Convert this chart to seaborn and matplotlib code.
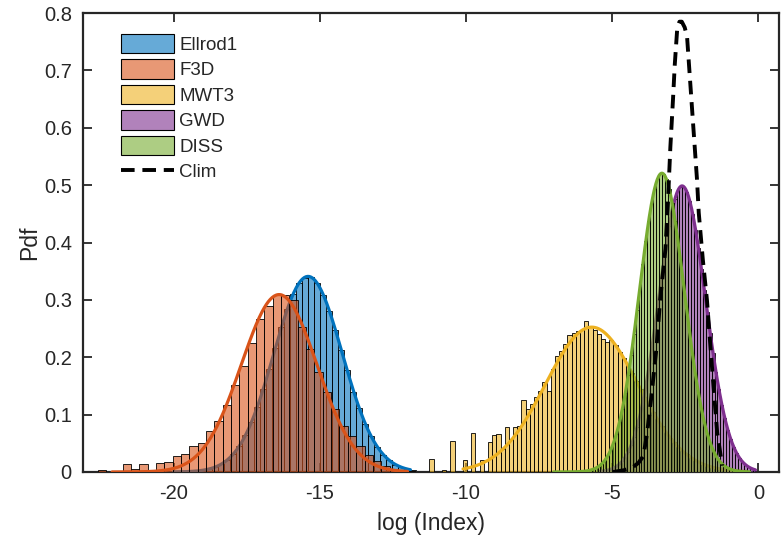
import numpy as np
import pandas as pd
import matplotlib
matplotlib.use('Agg')
import matplotlib.pyplot as plt
import seaborn as sns
from matplotlib.colors import to_rgba
from matplotlib.patches import Patch
from matplotlib.lines import Line2D

## DATA
# MATLAB default colours
c_blue = (0.0, 0.447, 0.741)
c_orange = (0.85, 0.325, 0.098)
c_yellow = (0.929, 0.694, 0.125)
c_purple = (0.494, 0.184, 0.556)
c_green = (0.466, 0.674, 0.188)

# Ellrod1 histogram (pdf normalised)
ellrod_start, ellrod_width = -19.9, 0.205
ellrod_pdf = [0.000, 0.001, 0.001, 0.002, 0.003, 0.005, 0.009, 0.014, 0.021, 0.031,
              0.046, 0.064, 0.087, 0.114, 0.145, 0.180, 0.216, 0.252, 0.284, 0.311,
              0.330, 0.338, 0.340, 0.329, 0.309, 0.281, 0.248, 0.213, 0.177, 0.140,
              0.111, 0.084, 0.062, 0.044, 0.030, 0.020, 0.013, 0.008, 0.005, 0.003]

# F3D histogram
f3d_start, f3d_width = -22.59, 0.285
f3d_pdf = [0.003, 0.0, 0.0, 0.014, 0.005, 0.014, 0.003, 0.015, 0.017, 0.028,
           0.031, 0.045, 0.050, 0.071, 0.089, 0.117, 0.152, 0.184, 0.224, 0.266,
           0.289, 0.308, 0.308, 0.300, 0.252, 0.214, 0.174, 0.139, 0.110, 0.081,
           0.063, 0.045, 0.030, 0.019, 0.011, 0.006, 0.003, 0.002]

# MWT3 histogram
mwt_start, mwt_width = -11.25, 0.143
mwt_pdf = [0.023, 0.0, 0.0, 0.003, 0.0, 0.054, 0.0, 0.0, 0.021, 0.0,
           0.068, 0.0, 0.021, 0.0, 0.052, 0.065, 0.066, 0.040, 0.079, 0.057,
           0.078, 0.081, 0.126, 0.110, 0.118, 0.130, 0.141, 0.156, 0.141, 0.180,
           0.202, 0.211, 0.223, 0.238, 0.243, 0.246, 0.247, 0.263, 0.252, 0.247,
           0.240, 0.231, 0.226, 0.230, 0.221, 0.210, 0.198, 0.185, 0.172, 0.158,
           0.144, 0.130, 0.117, 0.104, 0.092, 0.080, 0.070, 0.060, 0.052, 0.044,
           0.037, 0.031, 0.025, 0.021, 0.017, 0.014, 0.011, 0.009, 0.007, 0.005,
           0.004, 0.003, 0.002, 0.002, 0.001, 0.001]

# GWD histogram
gwd_start, gwd_width = -5.4, 0.1
gwd_pdf = [0.001, 0.002, 0.003, 0.005, 0.007, 0.010, 0.014, 0.019, 0.026, 0.035,
           0.047, 0.061, 0.078, 0.098, 0.122, 0.150, 0.181, 0.214, 0.250, 0.287,
           0.325, 0.362, 0.397, 0.428, 0.455, 0.476, 0.491, 0.497, 0.497, 0.488,
           0.472, 0.450, 0.422, 0.390, 0.354, 0.317, 0.279, 0.242, 0.207, 0.174,
           0.144, 0.117, 0.094, 0.074, 0.058, 0.044, 0.033, 0.025, 0.018, 0.013,
           0.009, 0.006, 0.004]

# DISS histogram
diss_start, diss_width = -6.2, 0.1
diss_pdf = [0.001, 0.001, 0.001, 0.002, 0.003, 0.005, 0.007, 0.010, 0.015, 0.020,
            0.028, 0.038, 0.051, 0.067, 0.087, 0.110, 0.138, 0.169, 0.204, 0.241,
            0.282, 0.323, 0.363, 0.403, 0.438, 0.469, 0.494, 0.511, 0.520, 0.520,
            0.511, 0.494, 0.469, 0.438, 0.403, 0.363, 0.323, 0.282, 0.241, 0.204,
            0.169, 0.138, 0.110, 0.087, 0.067, 0.051, 0.038, 0.028, 0.020, 0.015,
            0.010, 0.007, 0.005, 0.003, 0.002, 0.001, 0.001, 0.001, 0.0]

# normal fits: mean, std, curve range
fits = {
    'Ellrod1': (-15.40, 1.17, -20.0, -11.9),
    'F3D': (-16.39, 1.29, -22.1, -12.0),
    'MWT3': (-5.70, 1.58, -10.1, -0.4),
    'GWD': (-2.61, 0.80, -5.4, -0.1),
    'DISS': (-3.30, 0.766, -7.0, -0.3),
}

# Clim curve
clim_x = [-4.97, -4.60, -4.30, -4.10, -3.93, -3.80, -3.67, -3.49, -3.36, -3.18,
          -3.10, -3.01, -2.92, -2.86, -2.78, -2.70, -2.62, -2.52, -2.44, -2.33,
          -2.21, -2.10, -2.04, -1.90, -1.76, -1.59, -1.41, -1.24]
clim_y = [0.0, 0.003, 0.008, 0.016, 0.028, 0.070, 0.127, 0.214, 0.300, 0.388,
          0.463, 0.567, 0.650, 0.710, 0.770, 0.785, 0.785, 0.775, 0.759, 0.678,
          0.590, 0.510, 0.452, 0.370, 0.300, 0.185, 0.069, 0.011]

series = [
    ('Ellrod1', ellrod_start, ellrod_width, ellrod_pdf, c_blue),
    ('F3D', f3d_start, f3d_width, f3d_pdf, c_orange),
    ('MWT3', mwt_start, mwt_width, mwt_pdf, c_yellow),
    ('GWD', gwd_start, gwd_width, gwd_pdf, c_purple),
    ('DISS', diss_start, diss_width, diss_pdf, c_green),
]

## PLOT
sns.set_style('ticks')
plt.rcParams['font.family'] = ['Liberation Sans', 'DejaVu Sans']
plt.rcParams['axes.unicode_minus'] = False
ink = '#262626'

fig = plt.figure(figsize=(7.82, 5.45), dpi=100)
ax = fig.add_axes([0.106, 0.134, 0.890, 0.842])

z = 2
for name, start, width, pdf, col in series:
    edges = start + width * np.arange(len(pdf) + 1)
    centers = (edges[:-1] + edges[1:]) / 2
    df = pd.DataFrame({'x': centers, 'w': pdf})
    sns.histplot(data=df, x='x', weights='w', bins=edges.tolist(), color=col, alpha=0.6,
                 edgecolor='black', linewidth=0.6, ax=ax, zorder=z)
    mu, sd, lo, hi = fits[name]
    xs = np.linspace(lo, hi, 300)
    ys = np.exp(-(xs - mu) ** 2 / (2 * sd ** 2)) / (sd * np.sqrt(2 * np.pi))
    ax.plot(xs, ys, color=col, lw=2.3, zorder=z + 1)
    z += 2

ax.plot(clim_x, clim_y, color='black', lw=2.8, ls=(0, (3.5, 2.0)), zorder=z)

ax.set_xlim(-23.1, 0.7)
ax.set_ylim(0, 0.8)
ax.set_xticks([-20, -15, -10, -5, 0])
ax.set_yticks(np.arange(0, 0.81, 0.1))
ax.set_yticklabels(['0', '0.1', '0.2', '0.3', '0.4', '0.5', '0.6', '0.7', '0.8'])
ax.tick_params(direction='in', length=6.5, width=1.3, labelsize=14.5, colors=ink,
               top=True, right=True)
ax.tick_params(axis='y', pad=8)
ax.tick_params(axis='x', pad=9)
for s in ax.spines.values():
    s.set_linewidth(1.6)
    s.set_color(ink)
ax.set_xlabel('log (Index)', fontsize=16.5, color=ink, labelpad=6)
ax.set_ylabel('Pdf', fontsize=16.5, color=ink, labelpad=2)

handles = [Patch(facecolor=to_rgba(col, 0.6), edgecolor='black', linewidth=0.8, label=name)
           for name, _, _, _, col in series]
handles.append(Line2D([], [], color='black', lw=2.8, ls=(0, (3.5, 2.0)), label='Clim'))
ax.legend(handles=handles, loc='upper left', bbox_to_anchor=(0.055, 0.955), frameon=False,
          fontsize=13.5, handlelength=2.8, handleheight=1.2, labelspacing=0.3,
          handletextpad=0.3, borderaxespad=0, borderpad=0)

fig.savefig('out.png', dpi=100)
